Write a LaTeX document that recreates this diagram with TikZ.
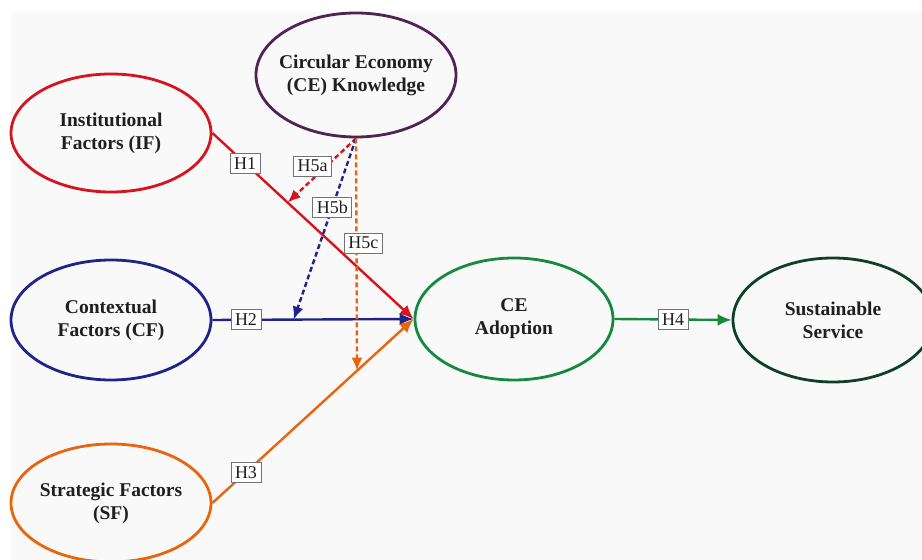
\documentclass[tikz,border=0pt]{standalone}
\usepackage{fontspec}
\setmainfont{Liberation Serif}
\usetikzlibrary{shapes.geometric,arrows.meta}
\definecolor{ifred}{HTML}{D7141E}
\definecolor{cfblue}{HTML}{1F2488}
\definecolor{sforange}{HTML}{E8650E}
\definecolor{cegreen}{HTML}{168A3C}
\definecolor{ssgreen}{HTML}{0F3F28}
\definecolor{ckpurple}{HTML}{512352}
\definecolor{bggray}{HTML}{F9F9F9}
\begin{document}
\begin{tikzpicture}[x=1pt,y=1pt,
	construct/.style={draw,ellipse,line width=2.8pt,inner sep=-30pt,minimum width=200pt,minimum height=120pt,align=center,font=\bfseries\fontsize{19.5}{23}\selectfont,text=black!88},
	path/.style={line width=2.4pt,-{Latex[length=14pt,width=12pt]}},
	moderation/.style={line width=2.4pt,dash pattern=on 5pt off 3pt,-{Latex[length=13pt,width=11pt]}},
	hyp/.style={draw=black!55,line width=0.8pt,fill=white,inner xsep=4pt,inner ysep=4pt,font=\fontsize{18}{20}\selectfont,text=black!88}]
		\useasboundingbox (0, 0) rectangle (922, 560);
		\fill[bggray] (11, 0) rectangle (922, 548);
		\begin{scope}
		\clip (0, 0) rectangle (922, 560);
		\node (ck) at (356, 485) [construct,draw=ckpurple,minimum height=124pt] {Circular Economy\\(CE) Knowledge};
		\node (if) at (111, 427) [construct,draw=ifred,minimum height=118pt] {Institutional\\Factors (IF)};
		\node (cf) at (111, 240) [construct,draw=cfblue] {Contextual\\Factors (CF)};
		\node (sf) at (111, 57) [construct,draw=sforange,minimum height=118pt] {Strategic Factors\\(SF)};
		\node (cea) at (514, 241) [construct,draw=cegreen,minimum width=198pt,minimum height=122pt] {CE\\Adoption};
		\node (ss) at (833, 240) [construct,draw=ssgreen,minimum height=124pt] {Sustainable\\Service};
		\end{scope}
		% main paths
		\draw[path,ifred] (if.east) -- (cea.west) coordinate[pos=0.374] (h1mid);
		\draw[path,cfblue] (cf.east) -- (cea.west) coordinate[pos=0.404] (h2mid);
		\draw[path,sforange] (sf.east) -- (cea.west) coordinate[pos=0.719] (h3mid);
		\draw[path,cegreen] (cea.east) -- (ss.west);
		% moderating effects of CE knowledge
		\draw[moderation,ifred] (ck.south) -- (h1mid);
		\draw[moderation,cfblue] (ck.south) -- (h2mid);
		\draw[moderation,sforange] (ck.south) -- (h3mid);
		% hypothesis labels
		\path (if.east) -- (cea.west) node[hyp,pos=0.163] (h1) {H1};
		\path (cf.east) -- (cea.west) node[hyp,pos=0.167] (h2) {H2};
		\path (sf.east) -- (cea.west) node[hyp,pos=0.167] (h3) {H3};
		\path (cea.east) -- (ss.west) node[hyp,pos=0.5] (h4) {H4};
		\path (ck.south) -- (h1mid) node[hyp,pos=0.43,xshift=-14pt] (h5a) {H5a};
		\path (ck.south) -- (h2mid) node[hyp,pos=0.38] (h5b) {H5b};
		\path (ck.south) -- (h3mid) node[hyp,pos=0.45,xshift=7pt] (h5c) {H5c};
	\end{tikzpicture}
\end{document}
